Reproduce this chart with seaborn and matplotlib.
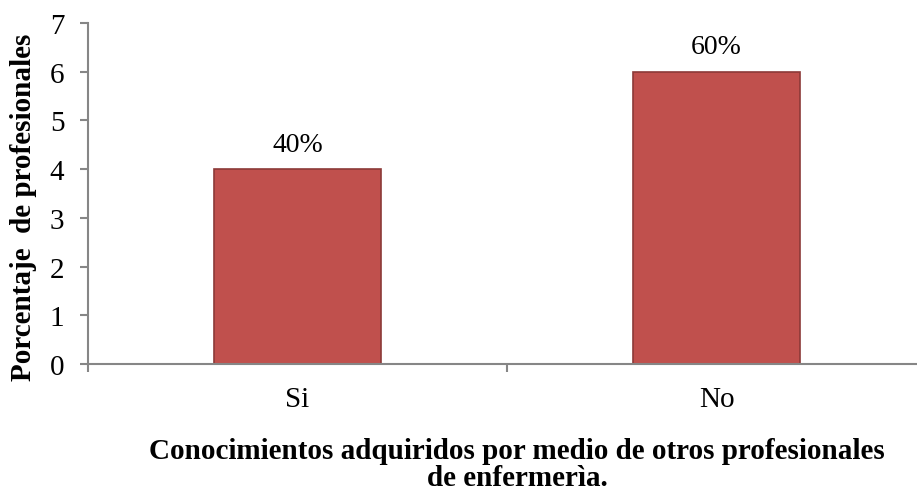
import matplotlib
matplotlib.use("Agg")
import matplotlib.pyplot as plt
import seaborn as sns

# ── Data ─────────────────────────────────────────────────────────────────────
categories = ["Si", "No"]
values     = [4, 6]
labels     = ["40%", "60%"]
y_ticks    = [0, 1, 2, 3, 4, 5, 6, 7]

BAR_COLOR  = "#C0504D"
EDGE_COLOR = "#8C3A38"
AXIS_COLOR = "#868686"

sns.set_theme(style="white")
plt.rcParams["font.family"] = ["Liberation Serif", "DejaVu Serif"]
plt.rcParams["text.color"] = "black"
plt.rcParams["xtick.color"] = "black"
plt.rcParams["ytick.color"] = "black"

fig = plt.figure(figsize=(9.17, 5.02), dpi=100)
ax = fig.add_axes([88 / 917, 1 - 365 / 502, 1 - 88 / 917, (365 - 24) / 502])

sns.barplot(x=categories, y=values, color=BAR_COLOR, width=0.4,
            edgecolor=EDGE_COLOR, linewidth=1.2, saturation=1, ax=ax)

ax.bar_label(ax.containers[0], labels=labels, padding=9, fontsize=20,
             color="black")

ax.set_ylim(0, 7)
ax.set_yticks(y_ticks)
ax.set_xlim(-0.5, 1.478)

# category separators as ticks, labels as minor ticks at centres
ax.set_xticks([-0.5, 0.5])
ax.set_xticklabels(["", ""])
ax.set_xticks([0, 1], minor=True)
ax.set_xticklabels(categories, minor=True)
ax.tick_params(axis="x", which="major", bottom=True, length=6, width=1.5,
               color=AXIS_COLOR, direction="out")
ax.tick_params(axis="x", which="minor", bottom=True, length=0, pad=16,
               labelsize=21, labelcolor="black")
ax.tick_params(axis="y", left=True, length=6, width=1.5, color=AXIS_COLOR,
               direction="out", labelsize=21, pad=11, labelcolor="black")

for side in ["top", "right"]:
    ax.spines[side].set_visible(False)
for side in ["left", "bottom"]:
    ax.spines[side].set_color(AXIS_COLOR)
    ax.spines[side].set_linewidth(1.5)

ax.set_xlabel("")
ax.set_ylabel("")

fig.text(24 / 917, 1 - 207 / 502, "Porcentaje  de profesionales",
         rotation=90, ha="center", va="center", fontsize=21, fontweight="bold")
fig.text(517 / 917, 1 - 465 / 502,
         "Conocimientos adquiridos por medio de otros profesionales\nde enfermerìa.",
         ha="center", va="center", fontsize=21, fontweight="bold",
         linespacing=1.0)

fig.savefig("out.png", dpi=100)
